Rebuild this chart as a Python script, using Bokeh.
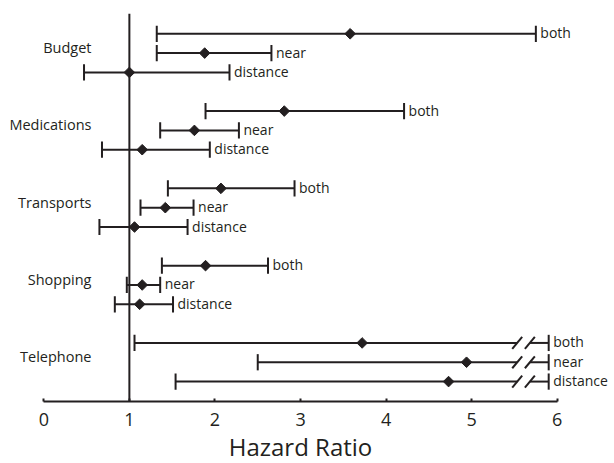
import math
from bokeh.plotting import figure
from bokeh.models import Range1d, FixedTicker, ColumnDataSource
from bokeh.core.properties import value
from bokeh.embed import file_html
from bokeh.resources import INLINE

# ---- data ----
groups = ["Budget", "Medications", "Transports", "Shopping", "Telephone"]
series = ["both", "near", "distance"]

hr_both = [3.58, 2.81, 2.07, 1.89, 3.72]
lo_both = [1.32, 1.89, 1.45, 1.38, 1.06]
hi_both = [5.75, 4.21, 2.93, 2.62, None]   # None: upper limit beyond axis (broken)

hr_near = [1.88, 1.76, 1.42, 1.15, 4.94]
lo_near = [1.32, 1.36, 1.13, 0.97, 2.50]
hi_near = [2.66, 2.28, 1.75, 1.36, None]

hr_dist = [1.00, 1.15, 1.06, 1.12, 4.73]
lo_dist = [0.47, 0.68, 0.65, 0.83, 1.54]
hi_dist = [2.17, 1.94, 1.68, 1.51, None]

tick_values = [0, 1, 2, 3, 4, 5, 6]
reference_hr = 1
x_label = "Hazard Ratio"

# ---- style / layout constants ----
INK = "#231f20"
FONT = "Open Sans"
ROWS_PER_GROUP = 4
BREAK_A, BREAK_B, AXIS_END = 5.532, 5.68, 5.9
CAP = 0.42
SL_DX, SL_DY = 0.058, 0.31
Y_TOP, Y_AXIS, Y_BOTTOM = -1.05, 19.03, 22.24

p = figure(width=614, height=463, output_backend="svg", toolbar_location=None,
           x_range=Range1d(-0.506, 6.669), y_range=Range1d(Y_BOTTOM, Y_TOP),
           y_axis_location=None, min_border_left=0, min_border_right=0,
           min_border_top=13, min_border_bottom=0)
p.outline_line_color = None
p.xgrid.visible = False
p.ygrid.visible = False

ax = p.xaxis[0]
ax.fixed_location = Y_AXIS
ax.ticker = FixedTicker(ticks=tick_values)
ax.bounds = (tick_values[0], tick_values[-1])
ax.axis_line_color = INK
ax.axis_line_width = 2
ax.major_tick_line_color = INK
ax.major_tick_line_width = 2
ax.major_tick_in = 3
ax.major_tick_out = 0
ax.minor_tick_line_color = None
ax.major_label_text_font = FONT
ax.major_label_text_font_size = "18px"
ax.major_label_text_color = INK
ax.major_label_standoff = 12
ax.axis_label = x_label
ax.axis_label_text_font = FONT
ax.axis_label_text_font_size = "24px"
ax.axis_label_text_font_style = "normal"
ax.axis_label_text_color = INK
ax.axis_label_standoff = 0

# reference line at HR = 1, from the top of the plot down to the axis
p.segment(x0=[reference_hr], y0=[Y_TOP], x1=[reference_hr], y1=[Y_AXIS],
          line_color=INK, line_width=2)

all_series = [(hr_both, lo_both, hi_both), (hr_near, lo_near, hi_near), (hr_dist, lo_dist, hi_dist)]

seg = dict(x0=[], y0=[], x1=[], y1=[])
pts = dict(x=[], y=[])
lab = dict(x=[], y=[], t=[])
for g, name in enumerate(groups):
    for k, (hrs, los, his) in enumerate(all_series):
        y = g * ROWS_PER_GROUP + k
        hr, lo, hi = hrs[g], los[g], his[g]
        pts["x"].append(hr); pts["y"].append(y)
        # left cap
        seg["x0"].append(lo); seg["y0"].append(y - CAP); seg["x1"].append(lo); seg["y1"].append(y + CAP)
        if hi is None:
            end = AXIS_END
            seg["x0"] += [lo, BREAK_B]; seg["y0"] += [y, y]; seg["x1"] += [BREAK_A, end]; seg["y1"] += [y, y]
            for bx in (BREAK_A, BREAK_B):
                seg["x0"].append(bx - SL_DX); seg["y0"].append(y + SL_DY)
                seg["x1"].append(bx + SL_DX); seg["y1"].append(y - SL_DY)
        else:
            end = hi
            seg["x0"].append(lo); seg["y0"].append(y); seg["x1"].append(end); seg["y1"].append(y)
        seg["x0"].append(end); seg["y0"].append(y - CAP); seg["x1"].append(end); seg["y1"].append(y + CAP)
        lab["x"].append(end); lab["y"].append(y); lab["t"].append(series[k])

p.segment(x0="x0", y0="y0", x1="x1", y1="y1", source=ColumnDataSource(seg),
          line_color=INK, line_width=2)
p.scatter(x="x", y="y", source=ColumnDataSource(pts), marker="square",
          angle=math.pi / 4, size=7.5, fill_color=INK, line_color=INK)
p.text(x="x", y="y", text="t", source=ColumnDataSource(lab), x_offset=4.5, y_offset=-1,
       text_font=value(FONT), text_font_size="14px", text_color=INK,
       text_align="left", text_baseline="alphabetic")

cat = dict(x=[0.557] * len(groups), y=[g * ROWS_PER_GROUP + 1 for g in range(len(groups))], t=groups)
p.text(x="x", y="y", text="t", source=ColumnDataSource(cat), y_offset=-5.5,
       text_font=value(FONT), text_font_size="14.5px", text_color=INK,
       text_align="right", text_baseline="alphabetic")

open("out.html", "w").write(file_html(p, INLINE))
